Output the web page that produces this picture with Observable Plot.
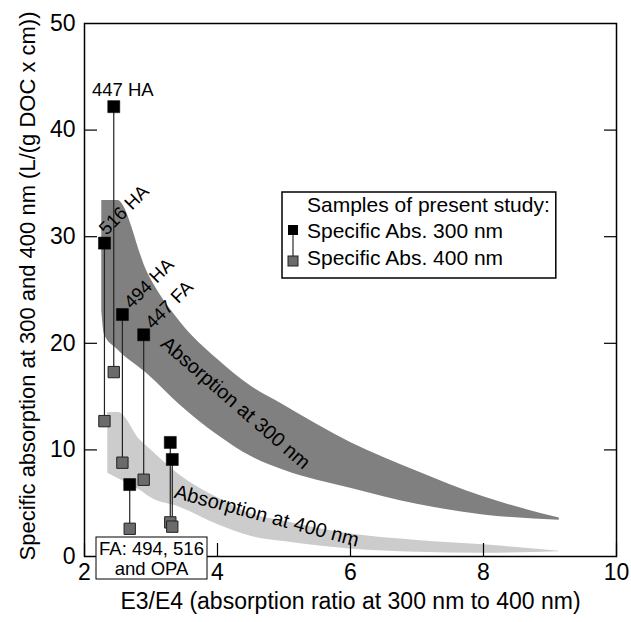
<!DOCTYPE html>
<html><head><meta charset="utf-8">
<script src="https://cdn.jsdelivr.net/npm/d3@7"></script>
<script src="https://cdn.jsdelivr.net/npm/@observablehq/plot@0.6"></script>
<style>
body{margin:0;background:#fff;}
#wrap{width:631px;height:622px;}
svg{overflow:visible;}
</style></head><body><div id="wrap"></div>
<script>
// --- data ---
const sampleNames = ["447 HA","516 HA","494 HA","447 FA","FA a","FA b","FA c"];
const sampleE3E4  = [2.44, 2.30, 2.57, 2.89, 2.68, 3.29, 3.32];
const abs300      = [42.2, 29.4, 22.7, 20.8, 6.75, 10.7, 9.1];
const abs400      = [17.3, 12.7, 8.8, 7.2, 2.6, 3.2, 2.8];

const band300X  = [2.26, 2.30, 2.50, 2.95, 3.44, 4.0, 4.5, 5.0, 6.0, 7.0, 8.0, 9.14];
const band300Hi = [33.4, 33.4, 33.4, 26.6, 22.0, 18.5, 16.0, 14.2, 10.7, 8.0, 5.6, 3.6];
const band300Lo = [23.0, 20.8, 19.4, 17.1, 14.2, 11.4, 9.4, 8.1, 6.4, 4.9, 3.9, 3.4];

const band400X  = [2.35, 2.51, 2.84, 3.0, 3.44, 4.0, 4.5, 5.0, 6.0, 7.0, 8.0, 9.14];
const band400Hi = [13.5, 13.5, 10.9, 10.0, 7.6, 5.5, 4.0, 3.3, 2.1, 1.5, 1.1, 0.5];
const band400Lo = [7.8, 7.3, 6.2, 5.5, 4.6, 3.0, 1.9, 1.4, 0.7, 0.4, 0.3, 0.45];

const xTicks = [2, 4, 6, 8, 10];
const yTicks = [0, 10, 20, 30, 40, 50];

const xTitle = "E3/E4 (absorption ratio at 300 nm to 400 nm)";
const yTitle = "Specific absorption at 300 and 400 nm (L/(g DOC x cm))";
const bandLabels = [
  {text: "Absorption at 300 nm", x: 4.27, y: 14.4, rotate: 41},
  {text: "Absorption at 400 nm", x: 4.74, y: 3.8, rotate: 15}
];
const legendTitle = "Samples of present study:";
const legendItems = ["Specific Abs. 300 nm", "Specific Abs. 400 nm"];
const faBoxLines = ["FA: 494, 516", "and OPA"];

// --- tables ---
const samples = sampleNames.map((n, i) => ({name: n, e: sampleE3E4[i], a300: abs300[i], a400: abs400[i]}));
const b300 = band300X.map((x, i) => ({x, hi: band300Hi[i], lo: band300Lo[i]}));
const b400 = band400X.map((x, i) => ({x, hi: band400Hi[i], lo: band400Lo[i]}));

const font = "'Liberation Sans', Arial, Helvetica, sans-serif";

const plot = Plot.plot({
  width: 631, height: 622,
  marginLeft: 84, marginRight: 15, marginTop: 23, marginBottom: 66,
  style: {fontFamily: font, background: "#fff", overflow: "visible"},
  x: {domain: [2, 10]},
  y: {domain: [0, 50]},
  marks: [
    Plot.areaY(b300, {x: "x", y1: "lo", y2: "hi", fill: "#808080", curve: "monotone-x"}),
    Plot.areaY(b400, {x: "x", y1: "lo", y2: "hi", fill: "#cccccc", curve: "monotone-x"}),
    Plot.text(bandLabels, {x: "x", y: "y", text: "text", rotate: "rotate", fontSize: 20, fill: "#000"}),
    Plot.ruleX(samples, {x: "e", y1: "a400", y2: "a300", stroke: "#222", strokeWidth: 1.2}),
    Plot.dot(samples, {x: "e", y: "a400", symbol: "square", r: 6.4, fill: "#6b6b6b", stroke: "#222", strokeWidth: 1}),
    Plot.dot(samples, {x: "e", y: "a300", symbol: "square", r: 6.8, fill: "#000", stroke: "#000", strokeWidth: 0.5}),
    Plot.text(samples.filter(d => d.name === "447 HA"), {x: "e", y: "a300", text: "name", fontSize: 18.5, textAnchor: "middle", lineAnchor: "bottom", dx: 9, dy: -11}),
    Plot.text(samples.filter(d => d.name === "516 HA"), {x: "e", y: "a300", text: "name", fontSize: 18.5, rotate: -45, textAnchor: "start", lineAnchor: "bottom", dx: 2, dy: -7}),
    Plot.text(samples.filter(d => d.name === "494 HA" || d.name === "447 FA"), {x: "e", y: "a300", text: "name", fontSize: 18.5, rotate: -45, textAnchor: "start", lineAnchor: "bottom", dx: 9, dy: -5}),
    Plot.frame({stroke: "#000", strokeWidth: 1.5}),
    Plot.axisX(xTicks, {tickSize: -13, tickFormat: () => "", strokeWidth: 1.2}),
    Plot.axisX(xTicks, {tickSize: 0, tickPadding: 7, fontSize: 23, label: null}),
    Plot.axisY(yTicks.slice(1, -1), {tickSize: -13, tickFormat: () => "", strokeWidth: 1.2}),
    Plot.axisY(yTicks.slice(1, -1), {anchor: "right", tickSize: -13, tickFormat: () => "", strokeWidth: 1.2}),
    Plot.axisY(yTicks, {tickSize: 0, tickPadding: 9, fontSize: 23, label: null}),
    Plot.text([xTitle], {frameAnchor: "bottom", dy: 52, fontSize: 23, fill: "#000", textAnchor: "middle", lineAnchor: "bottom"}),
    Plot.text([yTitle], {frameAnchor: "left", dx: -57, dy: -4, rotate: -90, fontSize: 22, fill: "#000", textAnchor: "middle"})
  ]
});
document.getElementById("wrap").appendChild(plot);

// --- legend and annotation box drawn on top ---
const svg = d3.select(plot);
const lg = svg.append("g").attr("font-family", font).attr("font-size", 21).attr("text-anchor", "start").attr("fill", "#000");
const lgText = lg.append("g");
lgText.append("text").attr("x", 307).attr("y", 212).text(legendTitle);
legendItems.forEach((t, i) => lgText.append("text").attr("x", 307).attr("y", 238 + i * 27).text(t));
const bb = lgText.node().getBBox();
lg.insert("rect", ":first-child").attr("x", 282).attr("y", 192).attr("width", bb.x + bb.width + 6 - 282).attr("height", 86)
  .attr("fill", "#fff").attr("stroke", "#000").attr("stroke-width", 1.5);
lg.append("line").attr("x1", 293).attr("x2", 293).attr("y1", 235).attr("y2", 256).attr("stroke", "#000");
lg.append("rect").attr("x", 288).attr("y", 225).attr("width", 10).attr("height", 10).attr("fill", "#000");
lg.append("rect").attr("x", 288).attr("y", 256).attr("width", 10).attr("height", 10).attr("fill", "#6b6b6b").attr("stroke", "#222");

const fa = svg.append("g").attr("font-family", font).attr("font-size", 18.5).attr("text-anchor", "middle").attr("fill", "#000");
fa.append("rect").attr("x", 96).attr("y", 537).attr("width", 111).attr("height", 42).attr("fill", "#fff").attr("stroke", "#000").attr("stroke-width", 1);
faBoxLines.forEach((t, i) => fa.append("text").attr("x", 151.5).attr("y", 555 + i * 20).text(t));
</script>
</body></html>
